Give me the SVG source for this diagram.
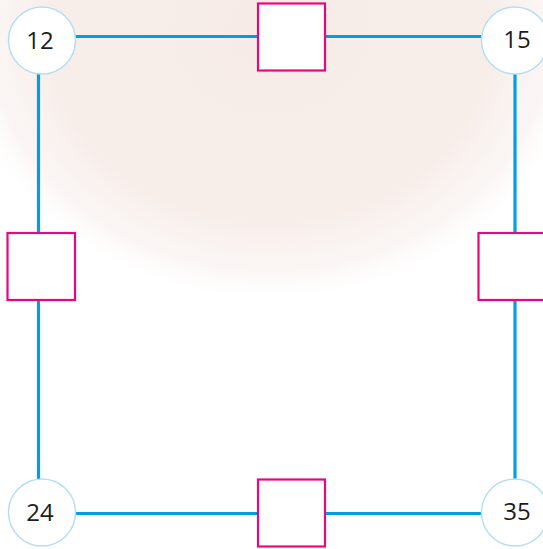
<svg xmlns="http://www.w3.org/2000/svg" width="543" height="549" viewBox="0 0 543 549">
  <defs>
    <radialGradient id="wm" cx="0.5" cy="0.5" r="0.5">
      <stop offset="0" stop-color="#f6ebe7"/>
      <stop offset="0.7" stop-color="#f7eeea"/>
      <stop offset="0.88" stop-color="#faf4f2" stop-opacity="0.8"/>
      <stop offset="1" stop-color="#ffffff" stop-opacity="0"/>
    </radialGradient>
  </defs>
  <style>
    .edge { stroke: #009fe3; stroke-width: 3.2; fill: none; }
    .num circle { fill: #ffffff; stroke: #b5def5; stroke-width: 1.5; }
    .num text { font-family: "Open Sans", "Noto Sans", sans-serif; font-size: 24px; fill: #1d1d1b; text-anchor: middle; }
    .box rect { fill: #ffffff; stroke: #e5097f; stroke-width: 2.2; }
  </style>
  <rect x="0" y="0" width="543" height="549" fill="#ffffff"/>
  <ellipse cx="270" cy="30" rx="320" ry="275" fill="url(#wm)"/>
  <g id="connectors">
    <line class="edge" x1="42" y1="36.5" x2="515" y2="36.5"/>
    <line class="edge" x1="42" y1="513.5" x2="515" y2="513.5"/>
    <line class="edge" x1="38.5" y1="40" x2="38.5" y2="513"/>
    <line class="edge" x1="515" y1="40" x2="515" y2="513"/>
  </g>
  <g id="n12" class="num">
    <circle cx="42" cy="40.5" r="33.5"/>
    <text x="40" y="49">12</text>
  </g>
  <g id="n15" class="num">
    <circle cx="515" cy="40.5" r="33.5"/>
    <text x="517" y="48">15</text>
  </g>
  <g id="n24" class="num">
    <circle cx="42" cy="512.5" r="33.5"/>
    <text x="40" y="521">24</text>
  </g>
  <g id="n35" class="num">
    <circle cx="515" cy="512.5" r="33.5"/>
    <text x="517" y="520">35</text>
  </g>
  <g id="boxTop" class="box">
    <rect x="258" y="3.5" width="67" height="67"/>
  </g>
  <g id="boxLeft" class="box">
    <rect x="7.5" y="233" width="67.5" height="67"/>
  </g>
  <g id="boxRight" class="box">
    <rect x="478.5" y="233" width="67.5" height="67"/>
  </g>
  <g id="boxBottom" class="box">
    <rect x="258" y="479.5" width="67" height="67"/>
  </g>
</svg>
